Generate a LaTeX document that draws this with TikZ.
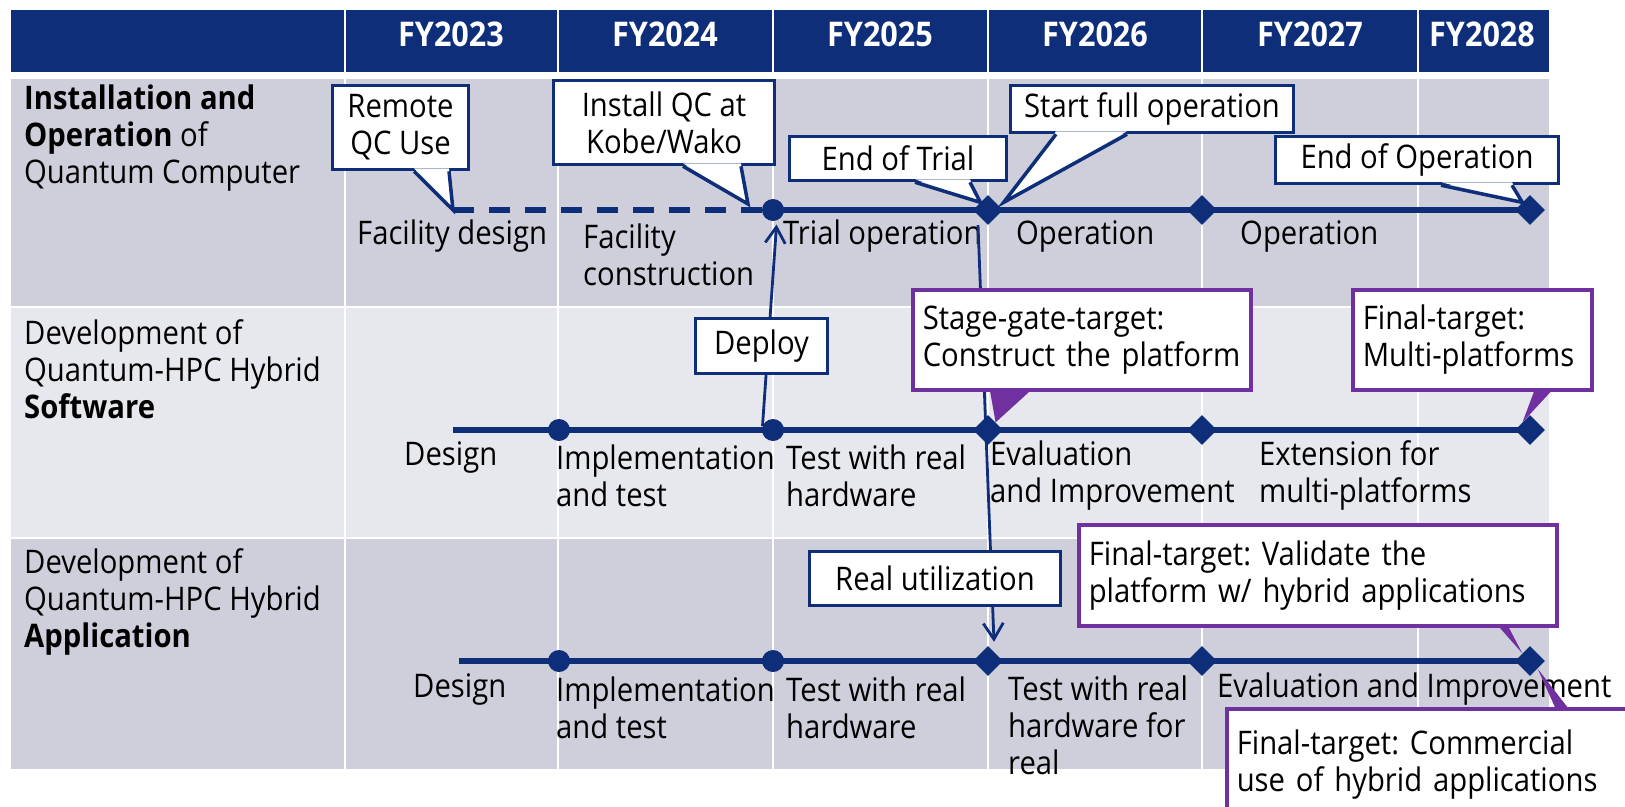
\documentclass[tikz,border=0pt]{standalone}
\usepackage{fontspec}
\setmainfont[FakeStretch=0.9]{Open Sans}
\usetikzlibrary{shapes.geometric,arrows.meta}
\definecolor{marine}{RGB}{14,46,122}
\definecolor{prune}{RGB}{112,48,160}
\definecolor{bandefonce}{RGB}{206,207,219}
\definecolor{bandeclair}{RGB}{231,232,237}

\begin{document}
\frenchspacing
\hyphenpenalty=10000
\begin{tikzpicture}[x=1pt,y=-1pt]
\tikzset{texte/.style={font=\fontsize{32.5}{37}\selectfont, inner sep=0pt, align=left, anchor=west},
  annee/.style={font=\fontsize{34}{37}\selectfont\bfseries, text=white, inner sep=0pt},
  bulle/.style={draw=marine, line width=3.5pt, fill=white, inner sep=0pt, align=center, font=\fontsize{32.5}{37}\selectfont},
  bulleviolette/.style={bulle, draw=prune, anchor=north west, inner xsep=10pt, align=left},
  rond/.style={circle, fill=marine, minimum size=22pt, inner sep=0pt},
  losange/.style={diamond, fill=marine, minimum size=30pt, inner sep=0pt},
  axe/.style={marine, line width=6.5pt},
  fleche/.style={marine, line width=2.8pt, -{Straight Barb[length=16pt,width=20pt]}},
  queue/.style={marine, line width=3.5pt, line join=miter}}
\useasboundingbox (0,0) rectangle (1625,806);
\clip (0,0) rectangle (1625,806);
\fill[white] (0,0) rectangle (1625,806);
\fill[marine] (11,10) rectangle (1549,72);
\fill[bandefonce] (11,79) rectangle (1549,306);
\fill[bandeclair] (11,308) rectangle (1549,537);
\fill[bandefonce] (11,539) rectangle (1549,769);
\draw[white, line width=1.5pt] (345,10) -- (345,769);
\draw[white, line width=1.5pt] (558,10) -- (558,769);
\draw[white, line width=1.5pt] (773,10) -- (773,769);
\draw[white, line width=1.5pt] (988,10) -- (988,769);
\draw[white, line width=1.5pt] (1202,10) -- (1202,769);
\draw[white, line width=1.5pt] (1418,10) -- (1418,769);
\node[annee] (H1) at (451,34) {FY2023};
\node[annee] (H2) at (665,34) {FY2024};
\node[annee] (H3) at (880,34) {FY2025};
\node[annee] (H4) at (1095,34) {FY2026};
\node[annee] (H5) at (1310,34) {FY2027};
\node[annee] (H6) at (1482,34) {FY2028};
\node[texte] (T1) at (24,138.5) {\textbf{Installation and}\\\textbf{Operation} of\\Quantum Computer};
\node[texte] (T2) at (24,369) {Development of\\Quantum-HPC Hybrid\\\textbf{Software}};
\node[texte] (T3) at (24,601.5) {Development of\\Quantum-HPC Hybrid\\\textbf{Application}};

\coordinate (A0) at (453,210);
\node[rond] (A1) at (773,210) {};
\node[losange] (A2) at (988,210) {};
\node[losange] (A3) at (1202,210) {};
\node[losange] (A4) at (1530,210) {};
\coordinate (B0) at (453,430);
\node[rond] (B1) at (559,430) {};
\node[rond] (B2) at (773,430) {};
\node[losange] (B3) at (988,430) {};
\node[losange] (B4) at (1202,430) {};
\node[losange] (B5) at (1530,430) {};
\coordinate (C0) at (459,661);
\node[rond] (C1) at (559,661) {};
\node[rond] (C2) at (773,661) {};
\node[losange] (C3) at (988,661) {};
\node[losange] (C4) at (1202,661) {};
\node[losange] (C5) at (1530,661) {};
\draw[axe, dash pattern=on 21pt off 15pt] (A0) -- (A1.center);
\draw[axe] (A1.center) -- (A4.center);
\draw[axe] (B0) -- (B5.center);
\draw[axe] (C0) -- (C5.center);

\node[texte] (E11) at (357,236) {Facility design};
\node[texte] (E12) at (583,255) {Facility\\construction};
\node[texte] (E13) at (783,236) {Trial operation};
\node[texte] (E14) at (1016,236) {Operation};
\node[texte] (E15) at (1240,236) {Operation};
\node[texte] (E21) at (404,457) {Design};
\node[texte] (E22) at (556,475.5) {Implementation\\and test};
\node[texte] (E23) at (786,475.5) {Test with real\\hardware};
\node[texte] (E24) at (990,475.5) {Evaluation\\and Improvement};
\node[texte] (E25) at (1259,475.5) {Extension for\\multi-platforms};
\node[texte] (E31) at (413,689) {Design};
\node[texte] (E32) at (556,707.5) {Implementation\\and test};
\node[texte] (E33) at (786,707.5) {Test with real\\hardware};
\node[texte] (E34) at (1008,725) {Test with real\\hardware for\\real};
\node[texte] (E35) at (1217,689) {Evaluation and Improvement};

\draw[fleche, shorten >=4pt] (B2.160) -- (A1.-70);
\draw[fleche] ([xshift=-10pt]A2.south) -- ([xshift=6pt,yshift=4pt]C3.north);

\node[bulle, minimum width=136pt, minimum height=84pt] (R1) at (400.5,127.5) {Remote\\QC Use};
\node[bulle, minimum width=221pt, minimum height=84pt] (R2) at (664,122.5) {Install QC at\\Kobe/Wako};
\node[bulle, minimum width=217pt, minimum height=44pt] (R3) at (898,158.5) {End of Trial};
\node[bulle, minimum width=283pt, minimum height=47pt] (R4) at (1152,109) {Start full operation};
\node[bulle, minimum width=283pt, minimum height=47pt] (R5) at (1417,160) {End of Operation};
\node[bulle, minimum width=132pt, minimum height=55pt] (D1) at (761.5,346) {Deploy};
\node[bulle, minimum width=251pt, minimum height=54pt] (D2) at (935,578.5) {Real utilization};

\fill[white] ([xshift=13.5pt,yshift=3pt]R1.south) -- (A0) -- ([xshift=48.5pt,yshift=3pt]R1.south);
\draw[queue] ([xshift=13.5pt]R1.south) -- (A0) -- ([xshift=48.5pt]R1.south);
\fill[white] ([xshift=19pt,yshift=3pt]R2.south) -- ([xshift=-25pt,yshift=6pt]A1.center) -- ([xshift=77pt,yshift=3pt]R2.south);
\draw[queue] ([xshift=19pt]R2.south) -- ([xshift=-25pt,yshift=6pt]A1.center) -- ([xshift=77pt]R2.south);
\fill[white] ([xshift=17pt,yshift=3pt]R3.south) -- (A2.north west) -- ([xshift=72pt,yshift=3pt]R3.south);
\draw[queue] ([xshift=17pt]R3.south) -- (A2.north west) -- ([xshift=72pt]R3.south);
\fill[white] ([xshift=-96pt,yshift=3pt]R4.south) -- ([xshift=8pt]A2.north east) -- ([xshift=-25pt,yshift=3pt]R4.south);
\draw[queue] ([xshift=-96pt]R4.south) -- ([xshift=8pt]A2.north east) -- ([xshift=-25pt]R4.south);
\fill[white] ([xshift=24pt,yshift=3pt]R5.south) -- (A4.north west) -- ([xshift=95pt,yshift=3pt]R5.south);
\draw[queue] ([xshift=24pt]R5.south) -- (A4.north west) -- ([xshift=95pt]R5.south);

\node[bulleviolette, text width=318pt, minimum height=100pt] (P1) at (911,288) {Stage-gate-target:\\Construct the platform};
\node[bulleviolette, text width=219pt, minimum height=100pt] (P2) at (1351,288) {Final-target:\\Multi-platforms};
\node[bulleviolette, text width=458pt, minimum height=101pt] (P3) at (1077,523) {Final-target: Validate the\\platform w/ hybrid applications};
\node[bulleviolette, text width=455pt, minimum height=111pt] (P4) at (1225,707) {Final-target: Commercial\\use of hybrid applications};
\fill[prune] ([xshift=-92pt,yshift=2pt]P1.south) -- (B3.north east) -- ([xshift=-50pt,yshift=2pt]P1.south) -- cycle;
\fill[prune] ([xshift=62.5pt,yshift=2pt]P2.south) -- (B5.north west) -- ([xshift=80.5pt,yshift=2pt]P2.south) -- cycle;
\fill[prune] ([xshift=180pt,yshift=2pt]P3.south) -- (C5.north west) -- ([xshift=190pt,yshift=2pt]P3.south) -- cycle;
\fill[prune] ([xshift=91.5pt,yshift=-2pt]P4.north) -- (C5.south east) -- ([xshift=104.5pt,yshift=-2pt]P4.north) -- cycle;
\end{tikzpicture}
\end{document}
